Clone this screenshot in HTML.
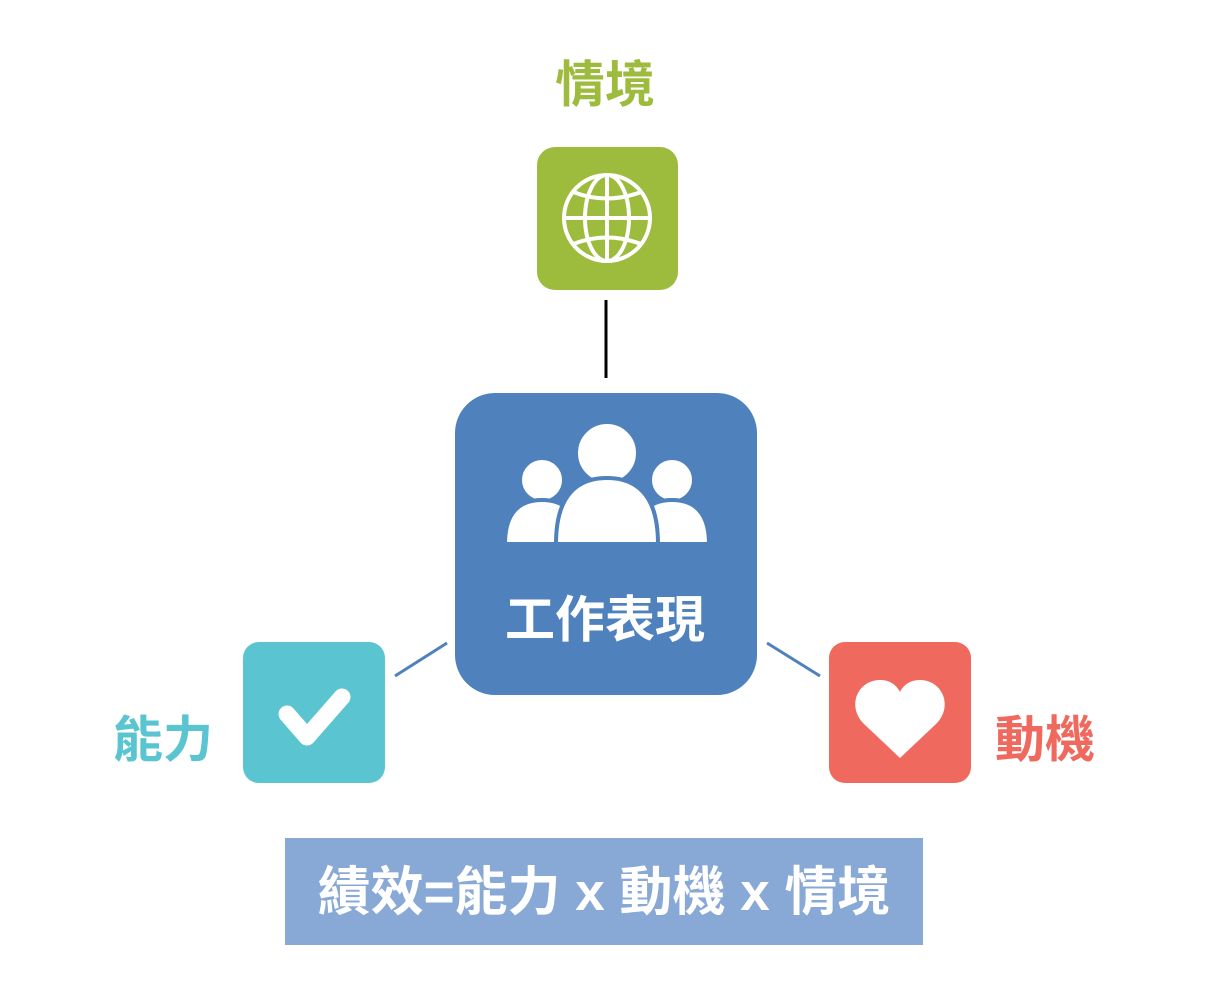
<!DOCTYPE html>
<html><head><meta charset="utf-8"><style>
html,body{margin:0;padding:0;background:#fff;width:1220px;height:984px;overflow:hidden;position:relative;font-family:"Liberation Sans","Noto Sans CJK TC",sans-serif;font-weight:bold}
.t{position:absolute;font-size:50px;line-height:1;white-space:nowrap}
</style></head><body>
<svg width="1220" height="984" style="position:absolute;left:0;top:0">
<rect x="537" y="147" width="141" height="143" rx="18" fill="#9dbb3d"/>
<g fill="none" stroke="#fff" stroke-width="4">
<circle cx="607" cy="218" r="43"/>
<ellipse cx="607" cy="218" rx="22" ry="43"/>
<line x1="607" y1="175" x2="607" y2="261"/>
<line x1="564" y1="218" x2="650" y2="218"/>
<path d="M573 192 Q607 205 641 192"/>
<path d="M573 244 Q607 231 641 244"/>
</g>
<line x1="606" y1="300" x2="606" y2="378" stroke="#000" stroke-width="3"/>
<rect x="455" y="393" width="302" height="302" rx="40" fill="#4f81bd"/>
<g fill="#fff" stroke="#4f81bd" stroke-width="4">
<circle cx="542" cy="480" r="22"/>
<circle cx="672" cy="480" r="22"/>
<path d="M505 544 Q505 500 542 500 Q579 500 579 544 Z"/>
<path d="M635 544 Q635 500 672 500 Q709 500 709 544 Z"/>
<circle cx="607" cy="453" r="31"/>
<path d="M556 544 Q556 478 607 478 Q658 478 658 544 Z"/>
</g>
<line x1="395" y1="676" x2="447" y2="643" stroke="#4f81bd" stroke-width="3"/>
<line x1="767" y1="643" x2="820" y2="676" stroke="#4f81bd" stroke-width="3"/>
<rect x="243" y="642" width="142" height="141" rx="16" fill="#5bc4d1"/>
<path d="M287 714 L307 737 L342 697" fill="none" stroke="#fff" stroke-width="17" stroke-linecap="round" stroke-linejoin="round"/>
<rect x="829" y="642" width="142" height="141" rx="16" fill="#f0695f"/>
<path d="M900 758 L864 724 C846 706 858 680 880 680 C891 680 897 686 900 692 C903 686 909 680 920 680 C942 680 954 706 936 724 Z" fill="#fff"/>
<rect x="285" y="838" width="638" height="107" fill="#88a8d6"/>
</svg>
<div class="t" style="left:555px;top:60px;color:#9dbb3d">情境</div>
<div class="t" style="left:502px;top:595px;color:#fff;width:206px;text-align:center">工作表現</div>
<div class="t" style="left:113px;top:715px;color:#5bc4d1">能力</div>
<div class="t" style="left:995px;top:715px;color:#f0695f">動機</div>
<div class="t" style="left:285px;top:866px;width:638px;text-align:center;color:#fff;font-size:53px">績效=能力 x 動機 x 情境</div>
</body></html>
